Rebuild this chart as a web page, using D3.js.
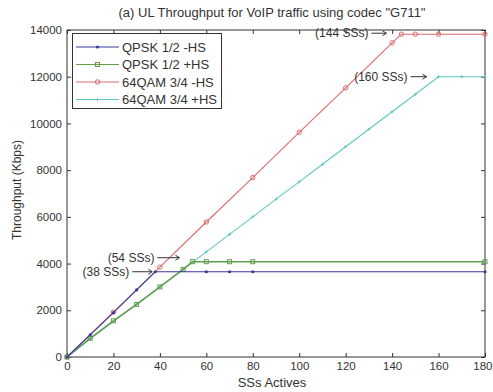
<!DOCTYPE html>
<html>
<head>
<meta charset="utf-8">
<script src="https://cdn.jsdelivr.net/npm/d3@7"></script>
<style>
  body { margin: 0; background: #fff; }
  svg { display: block; font-family: "Liberation Sans", Arial, sans-serif; }
</style>
</head>
<body>
<div id="chart"></div>
<script>
// values
var seriesNames = ["QPSK 1/2 -HS", "QPSK 1/2 +HS", "64QAM 3/4 -HS", "64QAM 3/4 +HS"];

var qpskNoHsX = [0, 10, 20, 30, 38, 60, 70, 80, 180];
var qpskNoHsY = [0, 950, 1900, 2870, 3650, 3650, 3650, 3650, 3650];

var qpskHsX = [0, 10, 20, 30, 40, 50, 54, 60, 70, 80, 180];
var qpskHsY = [0, 800, 1550, 2250, 3000, 3750, 4080, 4080, 4080, 4080, 4080];

var qamNoHsX = [0, 20, 40, 60, 80, 100, 120, 140, 144, 150, 160, 180];
var qamNoHsY = [0, 1920, 3850, 5780, 7680, 9620, 11520, 13450, 13820, 13820, 13820, 13820];

var qamHsX = [0, 10, 20, 30, 40, 50, 60, 70, 80, 90, 100, 110, 120, 130, 140, 150, 160, 170, 180];
var qamHsY = [0, 780, 1530, 2260, 3000, 3750, 4500, 5250, 6000, 6760, 7500, 8250, 9000, 9750, 10500, 11250, 12000, 12000, 12000];

var xTicks = [0, 20, 40, 60, 80, 100, 120, 140, 160, 180];
var yTicks = [0, 2000, 4000, 6000, 8000, 10000, 12000, 14000];

var notes = [
  {text: "(38 SSs)", x: 38, y: 3650, dx: -3, dy: 0, len: 20},
  {text: "(54 SSs)", x: 54, y: 4080, dx: -13, dy: -4, len: 22},
  {text: "(144 SSs)", x: 144, y: 13820, dx: -15, dy: -1, len: 15},
  {text: "(160 SSs)", x: 160, y: 12000, dx: -12, dy: 0, len: 16}
];

var colors = ["#3a3aa0", "#5f9f4c", "#dc6a6a", "#62c6c0"];
var markers = ["dot", "square", "circle", "plus"];

var W = 493, H = 392;
var m = {left: 67, right: 8, top: 30, bottom: 35};
var txt = "#333";

var svg = d3.select("#chart").append("svg")
  .attr("width", W).attr("height", H);

var x = d3.scaleLinear().domain([0, 180]).range([m.left, W - m.right]);
var y = d3.scaleLinear().domain([0, 14000]).range([H - m.bottom, m.top]);

// box + inward ticks like matlab
svg.append("rect")
  .attr("x", x(0)).attr("y", y(14000))
  .attr("width", x(180) - x(0)).attr("height", y(0) - y(14000))
  .attr("fill", "none").attr("stroke", txt).attr("stroke-width", 1);

var fmt = d3.format("d");
var bottomAxis = svg.append("g").attr("transform", "translate(0," + y(0) + ")")
  .call(d3.axisBottom(x).tickValues(xTicks).tickFormat(fmt).tickSizeInner(-4).tickSizeOuter(0).tickPadding(5));
var topAxis = svg.append("g").attr("transform", "translate(0," + y(14000) + ")")
  .call(d3.axisTop(x).tickValues(xTicks).tickSizeInner(-4).tickSizeOuter(0).tickFormat(""));
var leftAxis = svg.append("g").attr("transform", "translate(" + x(0) + ",0)")
  .call(d3.axisLeft(y).tickValues(yTicks).tickFormat(fmt).tickSizeInner(-4).tickSizeOuter(0).tickPadding(5));
var rightAxis = svg.append("g").attr("transform", "translate(" + x(180) + ",0)")
  .call(d3.axisRight(y).tickValues(yTicks).tickSizeInner(-4).tickSizeOuter(0).tickFormat(""));

[bottomAxis, topAxis, leftAxis, rightAxis].forEach(function(a) {
  a.select(".domain").remove();
  a.selectAll("line").attr("stroke", txt);
  a.selectAll("text").attr("fill", txt).style("font-size", "11.5px")
    .style("font-family", "'Liberation Sans', Arial, sans-serif");
});
// last x label would run off the right edge, keep it inside
bottomAxis.selectAll(".tick").filter(function(d) { return d === 180; })
  .select("text").attr("text-anchor", "end").attr("dx", "7");

// title and axis labels
svg.append("text").attr("x", 272).attr("y", 17).attr("text-anchor", "middle")
  .attr("fill", txt).style("font-size", "13px")
  .text("(a) UL Throughput for VoIP traffic using codec \"G711\"");
svg.append("text").attr("x", 272).attr("y", 387).attr("text-anchor", "middle")
  .attr("fill", txt).style("font-size", "13px").text("SSs Actives");
svg.append("text").attr("transform", "translate(21,190) rotate(-90)")
  .attr("text-anchor", "middle").attr("fill", txt).style("font-size", "12px")
  .text("Throughput (Kbps)");

function drawMarker(g, type, cx, cy, col) {
  if (type === "dot") {
    g.append("circle").attr("cx", cx).attr("cy", cy).attr("r", 1.6).attr("fill", col);
  } else if (type === "square") {
    g.append("rect").attr("x", cx - 2).attr("y", cy - 2).attr("width", 4).attr("height", 4)
      .attr("fill", "none").attr("stroke", col).attr("stroke-width", 1);
  } else if (type === "circle") {
    g.append("circle").attr("cx", cx).attr("cy", cy).attr("r", 2.2)
      .attr("fill", "none").attr("stroke", col).attr("stroke-width", 1);
  } else {
    g.append("path").attr("d", "M" + (cx - 1.5) + "," + cy + "h3M" + cx + "," + (cy - 1.5) + "v3")
      .attr("stroke", col).attr("stroke-width", 1);
  }
}

var series = [
  {xs: qpskNoHsX, ys: qpskNoHsY},
  {xs: qpskHsX, ys: qpskHsY},
  {xs: qamNoHsX, ys: qamNoHsY},
  {xs: qamHsX, ys: qamHsY}
];

var line = d3.line().x(function(d) { return x(d[0]); }).y(function(d) { return y(d[1]); });

// cyan and red first so the QPSK lines sit on top
[3, 2, 1, 0].forEach(function(i) {
  var pts = series[i].xs.map(function(v, k) { return [v, series[i].ys[k]]; });
  var g = svg.append("g");
  g.append("path").datum(pts).attr("d", line).attr("fill", "none")
    .attr("stroke", colors[i]).attr("stroke-width", i === 1 ? 1.5 : 1.1);
  pts.forEach(function(p) { drawMarker(g, markers[i], x(p[0]), y(p[1]), colors[i]); });
});

// annotations with arrows
notes.forEach(function(n) {
  var ex = x(n.x) + n.dx, yy = y(n.y) + n.dy;
  var sx = ex - n.len;
  var g = svg.append("g").attr("stroke", txt).attr("fill", "none");
  g.append("path").attr("d", "M" + sx + "," + yy + "H" + ex);
  g.append("path").attr("d", "M" + (ex - 4) + "," + (yy - 2.5) + "L" + ex + "," + yy + "L" + (ex - 4) + "," + (yy + 2.5));
  svg.append("text").attr("x", sx - 3).attr("y", yy + 4).attr("text-anchor", "end")
    .attr("fill", txt).style("font-size", "12px").text(n.text);
});

// legend
var lg = svg.append("g");
lg.append("rect").attr("x", 72.5).attr("y", 33.5).attr("width", 149).attr("height", 75)
  .attr("fill", "#fff").attr("stroke", txt).attr("stroke-width", 1);
seriesNames.forEach(function(name, i) {
  var ly = 47 + i * 17.5;
  lg.append("line").attr("x1", 76).attr("x2", 119).attr("y1", ly).attr("y2", ly)
    .attr("stroke", colors[i]).attr("stroke-width", 1.1);
  drawMarker(lg, markers[i], 97.5, ly, colors[i]);
  lg.append("text").attr("x", 122).attr("y", ly + 4.5).attr("fill", txt)
    .style("font-size", "13px").text(name);
});
</script>
</body>
</html>
